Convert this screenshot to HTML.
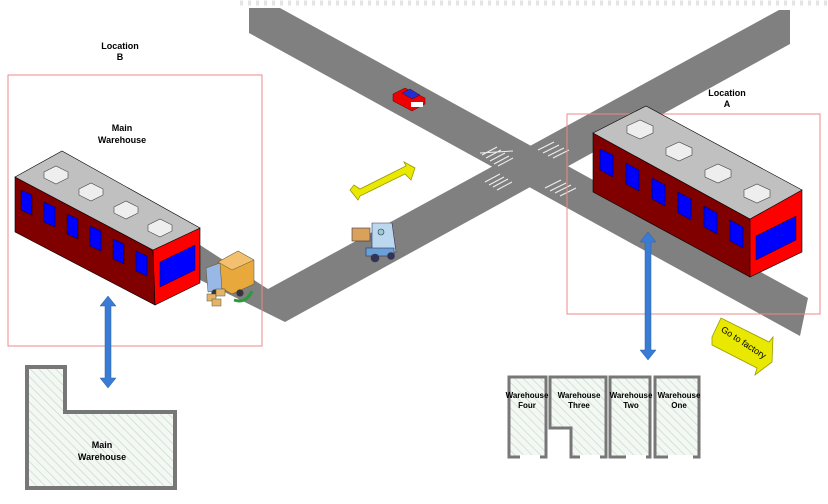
<!DOCTYPE html>
<html><head><meta charset="utf-8"><style>
html,body{margin:0;padding:0;background:#fff;}
svg{display:block;}
text{font-family:"Liberation Sans",Arial,sans-serif;font-weight:bold;font-size:9px;fill:#000;text-anchor:middle;}
</style></head><body>
<svg width="828" height="504" viewBox="0 0 828 504" xmlns="http://www.w3.org/2000/svg">
<defs>
<pattern id="h" width="6" height="6" patternUnits="userSpaceOnUse" patternTransform="rotate(-45)">
<rect width="6" height="6" fill="#f4f8f4"/><line x1="0" y1="0" x2="0" y2="6" stroke="#c9dcc9" stroke-width="1.5"/>
</pattern>
</defs>
<line x1="240" y1="3" x2="828" y2="3" stroke="#e4e4e4" stroke-width="5" stroke-dasharray="3,5"/>
<!-- roads -->
<polygon points="249,8 280,8 808,298 800,336 249,33" fill="#808080"/>
<polygon points="779,10 790,10 790,44 285,322 200,280 200,245 268,289" fill="#808080"/>
<!-- crosswalks -->
<g stroke="#f0f0f0" stroke-width="1" fill="none">
<path d="M482,155 l15,-8 M486,158 l15,-8 M490,161 l15,-8 M494,164 l15,-8 M498,166 l15,-8 M480,153 l33,-2"/>
<path d="M485,182 l15,-8 M489,185 l15,-8 M493,187 l15,-8 M497,190 l15,-8"/>
<path d="M538,150 l16,-8 M543,153 l16,-8 M548,156 l16,-8 M553,158 l16,-8"/>
<path d="M545,188 l16,-8 M550,191 l16,-8 M555,193 l16,-8 M560,196 l16,-8"/>
</g>
<!-- location boxes -->
<rect x="8" y="75" width="254" height="271" fill="none" stroke="#e88" stroke-width="1"/>
<rect x="567" y="114" width="253" height="200" fill="none" stroke="#e88" stroke-width="1"/>
<!-- left warehouse -->
<g stroke="#000" stroke-width="0.6">
<polygon points="15,177 153,250 155,305 15,232" fill="#800000"/>
<polygon points="153,250 200,228 200,283 155,305" fill="#ff0000"/>
<polygon points="15,177 62,151 200,228 153,250" fill="#c0c0c0"/>
</g>
<g fill="#0000ff" stroke="#000" stroke-width="0.4">
<polygon points="21,190 32,195 32,215 21,210"/>
<polygon points="44,202 55,207 55,227 44,222"/>
<polygon points="67,214 78,219 78,239 67,234"/>
<polygon points="90,226 101,231 101,251 90,246"/>
<polygon points="113,239 124,244 124,264 113,259"/>
<polygon points="136,251 147,256 147,276 136,271"/>
<polygon points="160,262 195,245 195,270 160,287"/>
</g>
<g fill="#eee" stroke="#444" stroke-width="0.6">
<polygon points="44,172 56,166 68,172 68,178 56,184 44,178"/>
<polygon points="79,189 91,183 103,189 103,195 91,201 79,195"/>
<polygon points="114,207 126,201 138,207 138,213 126,219 114,213"/>
<polygon points="148,225 160,219 172,225 172,231 160,237 148,231"/>
</g>
<!-- right warehouse -->
<g stroke="#000" stroke-width="0.6">
<polygon points="593,133 750,219 750,277 593,192" fill="#800000"/>
<polygon points="750,219 802,190 802,252 750,277" fill="#ff0000"/>
<polygon points="593,133 646,106 802,190 750,219" fill="#c0c0c0"/>
</g>
<g fill="#0000ff" stroke="#000" stroke-width="0.4">
<polygon points="600,149 613,155 613,177 600,170"/>
<polygon points="626,163 639,170 639,191 626,184"/>
<polygon points="652,178 665,185 665,206 652,199"/>
<polygon points="678,192 691,199 691,220 678,213"/>
<polygon points="704,206 717,213 717,234 704,227"/>
<polygon points="730,220 743,227 743,248 730,241"/>
<polygon points="756,236 796,216 796,240 756,260"/>
</g>
<g fill="#eee" stroke="#444" stroke-width="0.6">
<polygon points="627,126 640,120 653,126 653,133 640,139 627,133"/>
<polygon points="666,148 679,142 692,148 692,155 679,161 666,155"/>
<polygon points="705,170 718,164 731,170 731,177 718,183 705,177"/>
<polygon points="744,190 757,184 770,190 770,197 757,203 744,197"/>
</g>
<!-- blue double arrows -->
<g fill="#3a7bd5" stroke="#2a5ea8" stroke-width="0.5">
<polygon points="108,296 116,306 111,306 111,378 116,378 108,388 100,378 105,378 105,306 100,306"/>
<polygon points="648,232 656,242 651,242 651,350 656,350 648,360 640,350 645,350 645,242 640,242"/>
</g>
<!-- car -->
<g stroke="#600" stroke-width="0.5">
<polygon points="393,94 405,88 425,98 425,104 412,111 393,101" fill="#e00"/>
<polygon points="402,93 410,89 420,95 412,99" fill="#2030d0"/>
<rect x="411" y="102" width="12" height="5" fill="#fff" stroke="none"/>
</g>
<!-- yellow arrow -->
<polygon points="350,190 358,200 360,196 405,174 411,180 415,168 404,162 406,166 360,189 354,185" fill="#e8e800" stroke="#9a9a00" stroke-width="0.8"/>
<!-- forklift -->
<g stroke="#335" stroke-width="0.6">
<rect x="352" y="228" width="18" height="13" fill="#d9a15a"/>
<polygon points="372,223 392,223 396,252 372,252" fill="#bcd8ee"/>
<rect x="366" y="248" width="28" height="8" fill="#6aa0d8"/>
<circle cx="375" cy="258" r="4" fill="#335"/>
<circle cx="391" cy="256" r="3.5" fill="#335"/>
<circle cx="381" cy="232" r="3" fill="#9cc"/>
</g>
<!-- truck -->
<g stroke="#553" stroke-width="0.5">
<polygon points="218,262 238,251 254,260 254,284 232,294 218,286" fill="#e9a83c"/>
<polygon points="238,251 254,260 232,270 218,262" fill="#f3c070"/>
<polygon points="206,268 220,263 222,290 208,292" fill="#9ab8e6"/>
<circle cx="215" cy="293" r="3.5" fill="#334"/>
<circle cx="240" cy="293" r="3.5" fill="#334"/>
<rect x="207" y="294" width="9" height="7" fill="#e3b36a"/>
<rect x="216" y="289" width="9" height="7" fill="#e3b36a"/>
<rect x="212" y="299" width="9" height="7" fill="#e3b36a"/>
</g>
<path d="M234,300 q12,4 18,-9" stroke="#2a9a3a" stroke-width="3" fill="none"/>
<!-- go to factory arrow -->
<polygon points="712,337 721,318 769,342 773,337 772,362 755,375 757,368 712,345" fill="#e8e800" stroke="#9a9a00" stroke-width="0.8"/>
<text x="742" y="345" style="font-weight:normal;font-size:9px" transform="rotate(33 742 345)">Go to factory</text>
<!-- bottom left floor plan -->
<polygon points="27,367 65,367 65,412 175,412 175,488 27,488" fill="url(#h)" stroke="#777" stroke-width="4"/>
<!-- bottom right rooms -->
<g fill="url(#h)" stroke="#777" stroke-width="3">
<rect x="509" y="377" width="37" height="80"/>
<polygon points="550,377 606,377 606,457 571,457 571,428 550,428"/>
<rect x="610" y="377" width="40" height="80"/>
<rect x="655" y="377" width="44" height="80"/>
</g>
<g fill="#fff">
<rect x="520" y="455" width="20" height="4"/><rect x="580" y="455" width="20" height="4"/>
<rect x="626" y="455" width="20" height="4"/><rect x="668" y="455" width="25" height="4"/>
</g>
<!-- labels -->
<text x="120" y="49">Location</text><text x="120" y="60">B</text>
<text x="122" y="131">Main</text><text x="122" y="143">Warehouse</text>
<text x="727" y="96">Location</text><text x="727" y="107">A</text>
<text x="102" y="448">Main</text><text x="102" y="460">Warehouse</text>
<text x="527" y="398" style="font-size:8px">Warehouse</text><text x="527" y="408" style="font-size:8px">Four</text>
<text x="579" y="398" style="font-size:8px">Warehouse</text><text x="579" y="408" style="font-size:8px">Three</text>
<text x="631" y="398" style="font-size:8px">Warehouse</text><text x="631" y="408" style="font-size:8px">Two</text>
<text x="679" y="398" style="font-size:8px">Warehouse</text><text x="679" y="408" style="font-size:8px">One</text>
</svg>
</body></html>
